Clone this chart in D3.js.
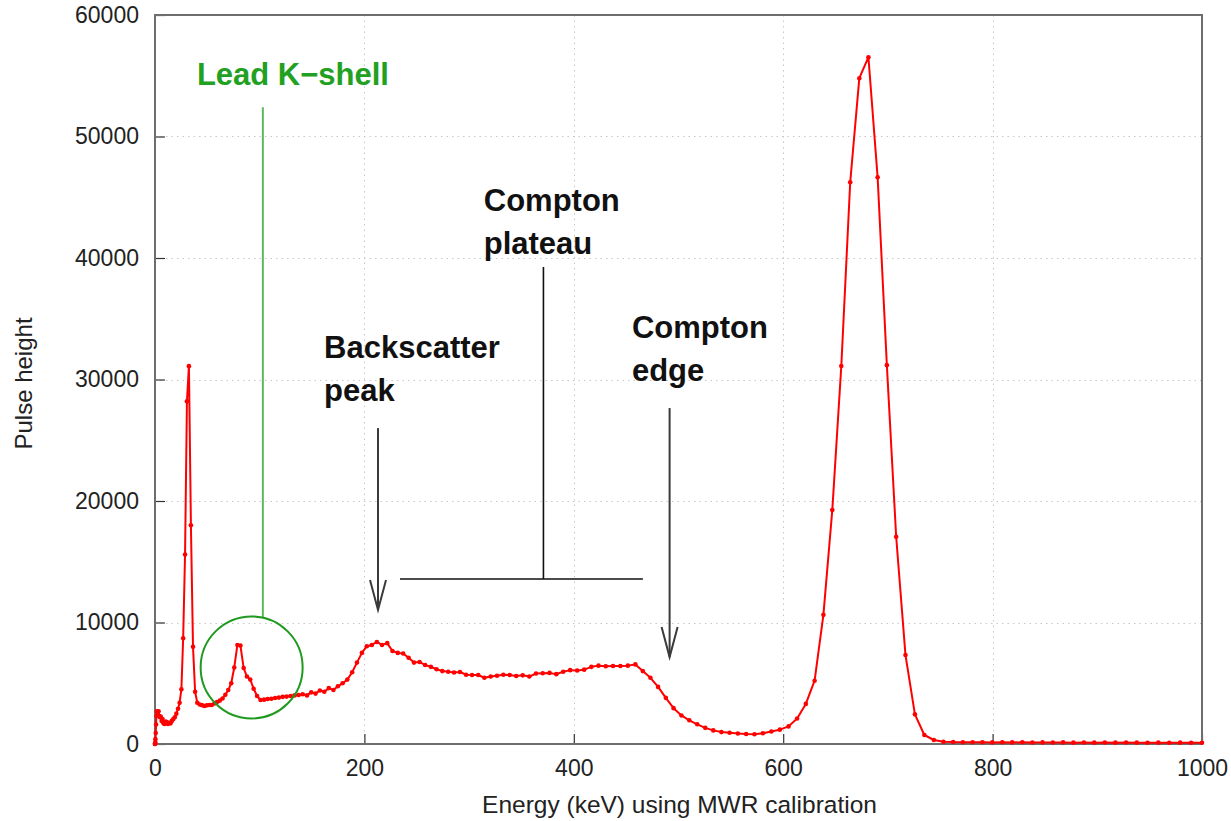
<!DOCTYPE html>
<html>
<head>
<meta charset="utf-8">
<script src="https://cdn.jsdelivr.net/npm/d3@7"></script>
<style>
  html, body { margin: 0; padding: 0; background: #fff; }
  svg { display: block; }
  text { font-family: "Liberation Sans", Arial, Helvetica, sans-serif; }
</style>
</head>
<body>
<svg id="chart" width="1231" height="821"></svg>
<script>
// Cs-137 gamma spectrum: channel energies (keV, MWR calibration) and pulse-height counts
const energyKeV = [
  0, 0, 0.1, 0.3, 0.4, 0.7, 1.0, 1.4, 1.8, 2.3, 2.8, 3.4, 4.0, 4.7, 5.5, 6.3, 7.2, 8.1, 9.1, 10.1,
  11.2, 12.3, 13.6, 14.8, 16.1, 17.5, 18.9, 20.4, 22.0, 23.5, 25.2, 26.9, 28.7, 30.5, 32.4, 34.3, 36.3, 38.3, 40.4, 42.6,
  44.8, 47.1, 49.4, 51.8, 54.2, 56.7, 59.2, 61.9, 64.5, 67.2, 70.0, 72.8, 75.7, 78.7, 81.6, 84.7, 87.8, 91.0, 94.2, 97.5,
  100.8, 104.2, 107.6, 111.1, 114.7, 118.3, 122.0, 125.7, 129.5, 133.3, 137.2, 141.1, 145.2, 149.2, 153.3, 157.5, 161.7, 166.0, 170.4, 174.7,
  179.2, 183.7, 188.3, 192.9, 197.6, 202.3, 207.1, 211.9, 216.8, 221.8, 226.8, 231.9, 237.0, 242.2, 247.4, 252.7, 258.0, 263.5, 268.9, 274.4,
  280.0, 285.6, 291.3, 297.1, 302.8, 308.7, 314.6, 320.6, 326.6, 332.7, 338.8, 345.0, 351.2, 357.5, 363.9, 370.3, 376.8, 383.3, 389.9, 396.5,
  403.2, 409.9, 416.8, 423.6, 430.5, 437.5, 444.5, 451.6, 458.8, 465.9, 473.2, 480.5, 487.9, 495.3, 502.8, 510.3, 517.9, 525.5, 533.2, 541.0,
  548.8, 556.7, 564.6, 572.6, 580.6, 588.7, 596.8, 605.1, 613.3, 621.6, 630.0, 638.4, 646.9, 655.5, 664.0, 672.7, 681.4, 690.2, 699.0, 707.9,
  716.8, 725.8, 734.8, 743.9, 753.1, 762.3, 771.6, 780.9, 790.3, 799.7, 809.2, 818.7, 828.4, 838.0, 847.7, 857.5, 867.3, 877.2, 887.2, 897.1,
  907.2, 917.3, 927.5, 937.7, 948.0, 958.3, 968.7, 979.1, 989.6, 1000.0
];

const pulseHeight = [
  0, 0, 50, 150, 400, 900, 1600, 2300, 2700, 2600, 2450, 2700, 2300, 2200, 2250, 1900, 2050, 1700, 1650, 1850,
  1800, 1650, 1750, 1700, 1900, 2050, 2200, 2500, 2900, 3400, 4500, 8700, 15600, 28200, 31100, 18000, 8000, 4300, 3400, 3250,
  3200, 3130, 3180, 3210, 3210, 3330, 3450, 3570, 3750, 4050, 4440, 5000, 6300, 8150, 8100, 6250, 5550, 5300, 4550, 3950,
  3620, 3650, 3700, 3720, 3780, 3820, 3880, 3900, 3950, 4000, 4030, 4100, 4000, 4250, 4150, 4400, 4300, 4600, 4450, 4750,
  5000, 5300, 5900, 6700, 7500, 8050, 8150, 8400, 8150, 8300, 7650, 7500, 7450, 7100, 6700, 6750, 6500, 6350, 6150, 6000,
  5950, 5880, 5930, 5700, 5680, 5680, 5450, 5550, 5620, 5700, 5680, 5600, 5650, 5550, 5800, 5820, 5850, 5750, 5950, 6080,
  6050, 6120, 6350, 6450, 6400, 6420, 6420, 6450, 6550, 6000, 5450, 4700, 3800, 2950, 2350, 1950, 1620, 1330, 1120, 980,
  920, 870, 820, 800, 880, 1030, 1180, 1450, 2100, 3300, 5210, 10630, 19260, 31115, 46235, 54800, 56525, 46640, 31180, 17060,
  7320, 2440, 740, 330, 190, 160, 150, 140, 150, 130, 140, 130, 140, 120, 130, 120, 130, 110, 120, 110,
  120, 110, 120, 110, 100, 110, 100, 110, 100, 100
];

const xTicks = [0, 200, 400, 600, 800, 1000];
const yTicks = [0, 10000, 20000, 30000, 40000, 50000, 60000];

const xTitle = "Energy (keV) using MWR calibration";
const yTitle = "Pulse height";
const leadLabel = "Lead K\u2212shell";
const plateauLabel = ["Compton", "plateau"];
const backscatterLabel = ["Backscatter", "peak"];
const edgeLabel = ["Compton", "edge"];

const svg = d3.select("#chart");
const W = 1231, H = 821;
const plot = { left: 155, right: 1202, top: 15, bottom: 744 };

const x = d3.scaleLinear().domain([0, 1000]).range([plot.left, plot.right]);
const y = d3.scaleLinear().domain([0, 60000]).range([plot.bottom, plot.top]);

svg.append("rect").attr("width", W).attr("height", H).attr("fill", "#fff");

// dotted grid
const grid = svg.append("g").attr("stroke", "#c8c8c8").attr("stroke-width", 1)
  .attr("stroke-dasharray", "1.5,4");
grid.selectAll("line.gy").data(yTicks.slice(1, -1)).join("line")
  .attr("x1", plot.left).attr("x2", plot.right)
  .attr("y1", d => Math.round(y(d)) + 0.5).attr("y2", d => Math.round(y(d)) + 0.5);
grid.selectAll("line.gx").data(xTicks.slice(1, -1)).join("line")
  .attr("y1", plot.top).attr("y2", plot.bottom)
  .attr("x1", d => Math.round(x(d)) + 0.5).attr("x2", d => Math.round(x(d)) + 0.5);

// axes with inward ticks
const fmt = d3.format("d");
const xAxis = d3.axisBottom(x).tickValues(xTicks).tickFormat(fmt).tickSizeInner(-10).tickSizeOuter(0).tickPadding(16);
const yAxis = d3.axisLeft(y).tickValues(yTicks).tickFormat(fmt).tickSizeInner(-10).tickSizeOuter(0).tickPadding(16);

const gx = svg.append("g").attr("transform", `translate(0,${plot.bottom})`).call(xAxis);
const gy = svg.append("g").attr("transform", `translate(${plot.left},0)`).call(yAxis);
[gx, gy].forEach(g => {
  g.select(".domain").remove();
  g.selectAll(".tick line").attr("stroke", "#333").attr("stroke-width", 1.2);
  g.selectAll(".tick text").attr("fill", "#222").style("font-size", "23px")
    .style("font-family", "'Liberation Sans', Arial, sans-serif");
});
gx.selectAll(".tick text").attr("dy", "0.71em");

// frame
svg.append("rect")
  .attr("x", plot.left).attr("y", plot.top)
  .attr("width", plot.right - plot.left).attr("height", plot.bottom - plot.top)
  .attr("fill", "none").attr("stroke", "#6e6e6e").attr("stroke-width", 2);

// axis titles
svg.append("text").attr("x", 679.5).attr("y", 813)
  .attr("text-anchor", "middle").attr("fill", "#222").style("font-size", "24.5px").text(xTitle);
svg.append("text").attr("transform", `translate(32,383.5) rotate(-90)`)
  .attr("text-anchor", "middle").attr("fill", "#222").style("font-size", "24px").text(yTitle);

// spectrum line and markers
const pts = energyKeV.map((e, i) => [e, pulseHeight[i]]);
svg.append("path").datum(pts)
  .attr("fill", "none").attr("stroke", "#ff0000").attr("stroke-width", 2)
  .attr("stroke-linejoin", "round")
  .attr("d", d3.line().x(d => x(d[0])).y(d => y(d[1])));
svg.append("g").attr("fill", "#ff0000").selectAll("circle").data(pts).join("circle")
  .attr("cx", d => x(d[0])).attr("cy", d => y(d[1])).attr("r", 2.3);

// annotations
const bold = s => s.style("font-size", "31px").style("font-weight", "bold");

// Lead K-shell marker
const circ = { e: 92.3, v: 6300, r: 51 };
svg.append("text").attr("x", x(40)).attr("y", y(54250)).attr("fill", "#22a022")
  .call(bold).text(leadLabel);
svg.append("line").attr("x1", x(103)).attr("x2", x(103))
  .attr("y1", y(52400)).attr("y2", y(circ.v) - circ.r + 1)
  .attr("stroke", "#5cb85c").attr("stroke-width", 2);
svg.append("circle").attr("cx", x(circ.e)).attr("cy", y(circ.v)).attr("r", circ.r)
  .attr("fill", "none").attr("stroke", "#1f9a1f").attr("stroke-width", 2);

// two-line bold labels
function label(lines, e, v) {
  const t = svg.append("text").attr("x", x(e)).attr("y", y(v)).attr("fill", "#111").call(bold);
  lines.forEach((s, i) => t.append("tspan").attr("x", x(e)).attr("dy", i ? 43 : 0).text(s));
}
label(plateauLabel, 314, 43900);
label(backscatterLabel, 161.5, 31800);
label(edgeLabel, 455.5, 33450);

// Compton plateau bracket
const bracketV = 13580;
svg.append("line").attr("x1", x(234)).attr("x2", x(466)).attr("y1", y(bracketV)).attr("y2", y(bracketV))
  .attr("stroke", "#111").attr("stroke-width", 1.6);
svg.append("line").attr("x1", x(371)).attr("x2", x(371)).attr("y1", y(39250)).attr("y2", y(bracketV))
  .attr("stroke", "#111").attr("stroke-width", 1.6);

// downward arrows
function arrow(e, vTop, vTip) {
  const ax = x(e), y0 = y(vTop), y1 = y(vTip);
  const g = svg.append("g").attr("stroke", "#3a3a3a").attr("stroke-width", 2).attr("fill", "none");
  g.append("line").attr("x1", ax).attr("x2", ax).attr("y1", y0).attr("y2", y1);
  g.append("path").attr("d", `M${ax - 8},${y1 - 30}L${ax},${y1}L${ax + 8},${y1 - 30}`);
}
arrow(213, 26000, 11030);
arrow(491.5, 27650, 7160);
</script>
</body>
</html>
